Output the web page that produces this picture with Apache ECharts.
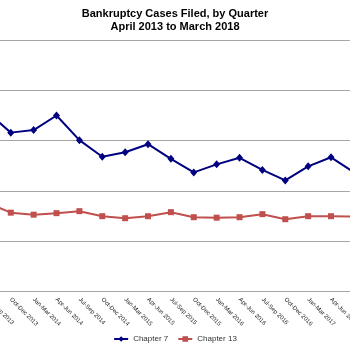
<!DOCTYPE html>
<html>
<head>
<meta charset="utf-8">
<script src="https://cdn.jsdelivr.net/npm/echarts@6/dist/echarts.min.js"></script>
<style>html,body{margin:0;padding:0;background:#fff}#c{width:350px;height:350px}</style>
</head>
<body>
<div id="c"></div>
<script>
const titleLines = ['Bankruptcy Cases Filed, by Quarter', 'April 2013 to March 2018'];
const quarters = ['Jul-Sep 2013','Oct-Dec 2013','Jan-Mar 2014','Apr-Jun 2014','Jul-Sep 2014','Oct-Dec 2014','Jan-Mar 2015','Apr-Jun 2015','Jul-Sep 2015','Oct-Dec 2015','Jan-Mar 2016','Apr-Jun 2016','Jul-Sep 2016','Oct-Dec 2016','Jan-Mar 2017','Apr-Jun 2017','Jul-Sep 2017'];
const chapter7 = [178000,158000,160500,175000,150500,134000,138500,146500,132000,118500,126500,133000,121000,110500,124500,133500,118500];
const chapter13 = [88000,78500,76500,78000,80000,75000,73000,75000,79000,74000,73500,74000,77000,72000,75000,75000,74500];
const yMin = 0, yMax = 250000, yStep = 50000;

const chart = echarts.init(document.getElementById('c'), null, {renderer: 'canvas'});
chart.setOption({
  animation: false,
  backgroundColor: '#ffffff',
  textStyle: {fontFamily: 'Liberation Sans, Arial, sans-serif'},
  title: {
    text: titleLines.join('\n'),
    left: 'center',
    top: 2,
    textStyle: {fontSize: 11, fontWeight: 'bold', color: '#000', lineHeight: 13, fontFamily: 'Liberation Sans, Arial, sans-serif'}
  },
  legend: {
    bottom: 2,
    left: 'center',
    itemWidth: 14,
    itemHeight: 7,
    itemGap: 9,
    textStyle: {fontSize: 8, color: '#333', fontFamily: 'Liberation Sans, Arial, sans-serif'},
    data: ['Chapter 7', 'Chapter 13']
  },
  grid: {left: -12.1, right: -3.9, top: 40, bottom: 58.3, containLabel: false, outerBoundsMode: 'none'},
  xAxis: {
    type: 'category',
    data: quarters,
    boundaryGap: false,
    axisLine: {lineStyle: {color: '#a6a6a6', width: 1}},
    axisTick: {show: false},
    axisLabel: {interval: 0, rotate: -45, fontSize: 6, color: '#222', margin: 7, fontFamily: 'Liberation Sans, Arial, sans-serif'},
    splitLine: {show: false}
  },
  yAxis: {
    type: 'value',
    min: yMin, max: yMax, interval: yStep,
    axisLine: {show: false},
    axisTick: {show: false},
    axisLabel: {show: false},
    splitLine: {lineStyle: {color: '#a6a6a6', width: 1}}
  },
  series: [
    {
      name: 'Chapter 7', type: 'line', data: chapter7,
      symbol: 'diamond', symbolSize: [7, 8], showAllSymbol: true,
      lineStyle: {color: '#000080', width: 2},
      itemStyle: {color: '#000080'}
    },
    {
      name: 'Chapter 13', type: 'line', data: chapter13,
      symbol: 'rect', symbolSize: 6, showAllSymbol: true,
      lineStyle: {color: '#C0504D', width: 2},
      itemStyle: {color: '#C0504D'}
    }
  ]
});
</script>
</body>
</html>
